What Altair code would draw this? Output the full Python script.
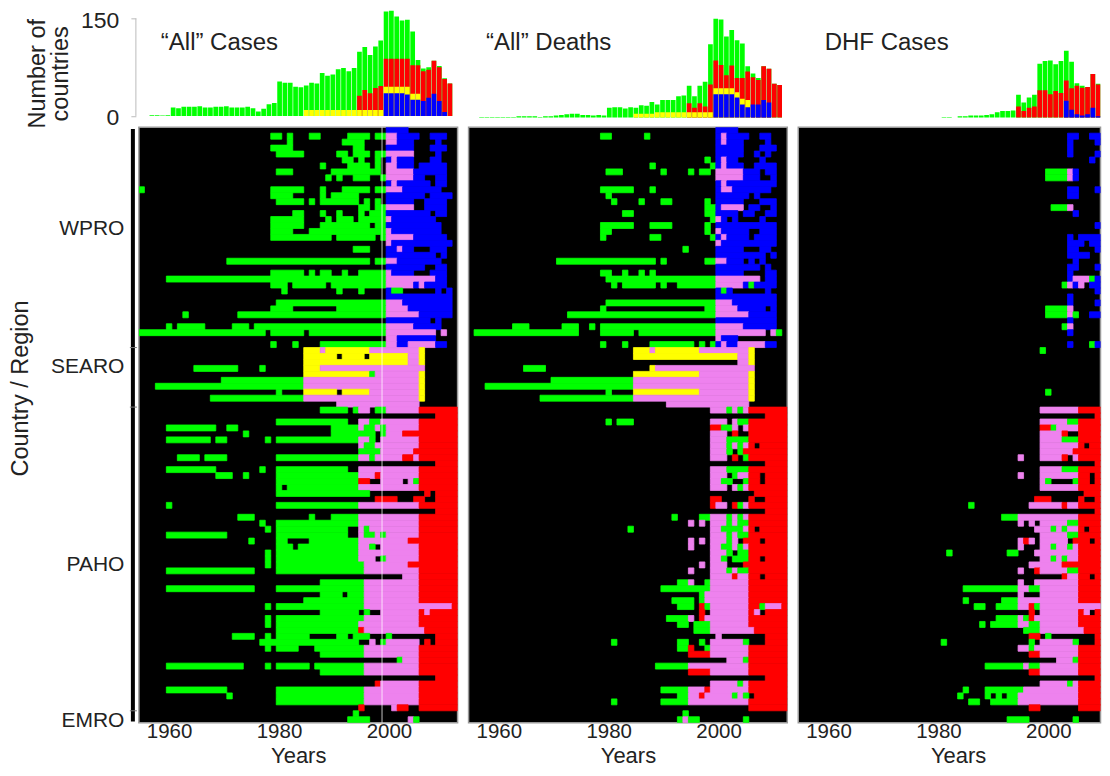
import altair as alt
import pandas as pd

FONT = "Liberation Sans"
INK = "#222222"
CODES = ["g", "b", "p", "r", "y"]
COLORS = ["#00ff00", "#0000ff", "#ee82ee", "#ff0000", "#ffff00"]
YEARS = list(range(1955, 2013))

CASES_ROWS = [
"b00-03","g79-80 g82 g86-87 g93-96 g98-99 p00-01 b02-05 b08-10","g82 g92-95 p00-01 b02-04 b09","g79-82 g94-95 b00-04 b08-10",
"g80-84 g91-92 g94-96 g98-99 p00-04 b09","g92-93 g95 g98 b00 p01 b02-04 b08-09","g88 g93-96 g98 p00-01 b02-04 b06-10","g80-82 g90-98 p00-04 b05-10",
"g89 g91 g94-96 g99 p00-04 b05-06 b09-10","b00 p01 b02-07 b09-10","g55 g79-84 g88 g92-96 g98-99 p00-02 b03-09","g79-82 g88 g90-94 b00-06 b08-11",
"g80-84 g86 g88-94 g96 g98 b00-04 b07-10","g95-96 g98-99 p00-04 b07-10","g83-84 g88 g91 g95 g97-99 b00-07 b09-10","g79-84 g89 g91-93 g95-99 p00 b01-08",
"g79-84 g88-96 g98-99 b00-09","g79-82 g86-99 p00 b01-09","g79-89 g91-97 g99 p00-04 b05-10","p00 b01-11",
"g94-96 b00-01 p02 b03-04 b08-10","b00-08 b10","g71-96 g98-99 p00-01 b02-09","b00-06 b09-10",
"g79-84 g86 g88-89 g92 g95-99 p00 b01-04 b08-10","g60-99 p00-08 b09-10","g79-81 g83-88 g90-99 p00-04 b05 p06 b07-10","g81 g91 g95 b00 g01-02 b09 b11",
"b00-11","g80-99 p00-02 b03-11","g79-82 g91-99 p00-03 b04-11","g63 g73-99 p00-05 b06-11",
"b00-07 b09","g60 g62-66 g72-74 g76-99 p00-04 b05-09","g55-77 g79-84 g86-99 p00-08 p10","p00-01 b02-08",
"g79 g83 g88-99 p00-01 b02-03 p04-08 b09-10","y85-87 p88 y89-96 p97-05 y06","y85-90 y92-95 y97-03 p04-05 y06","y85-03 p04-05 y06",
"g65-72 g77 y85-87 p88-06","y85-96 g97 p98-05 y06","g70-84 p85-05 y06","g58-84 p85-05 y06",
"g80 y85-90 y92-96 p97-05 y06","g68-84 p85-05 y06","p91-05","g88-92 g94 p95-96 g98-99 p00-05 r06-12",
"r09-12","g80-92 p95-96 g97-98 p99-05 r06-12","g60-68 g71-72 g90-94 p95 g96-97 p98 g99 p00-05 r06-12","g74 g90-97 g99 p00-02 r03-12",
"g60-67 g69-70 g78 g80-94 p95-96 g97 p99-05 r06-12","p95 g96-97 p98-05 r06-12","g95-98 p99-04 r05-12","g62-65 g67-70 g80-94 p95-96 g97 p98-02 r03-04 p05 r06-12",
"r09-12","g60-68 g77 g80-92 p95-05 r06-12","g69-71 g74 g80-94 p95-97 r98 p99-05 r06-12","g80-94 r95-96 p99-02 p04 g05 r06-12",
"g80 g82-94 p95-05 r06-12","g80-96 r07 r09-12","r98-01 r05-06 r09-12","g60 g80-94 p95-05 r06-12",
"r09-12","g73-75 g86 g90-94 p95-05 r06-12","g77 g80-94 p95-05 r06-12","g78 g80-92 p95 g96 p97-05 r06-12",
"g60-70 g80-92 p95 g96-97 p98 g99 p00-05 r06-12","g75 g80-81 g86-94 p95-03 r04-12","g80-82 g84-94 p95-96 g97 p99-05 r06-12","g78 g80-94 p95-05 r06-12",
"g78 g80-94 p95-97 g99 p00-05 r06-12","g78 g80-95 p96-03 r04-12","g60-75 g80-95 p96-05 r06-12","p03-05 r06-12",
"g88-95 p96-05 r06-12","g60-75 g80-95 p96-05 r06-12","g88-91 g93-95 p96-05 r06-12","g85-95 p96-05 r06-12",
"g78 g80-95 p96-11 r12","g88-94 g96 p99-05 r06 p07 r08-12","g78 g80-95 p96-05 r06-12","g78 g80-94 p95-05 r06-12",
"g80-94 r95 p96-06 r07-12","g72-75 g78 g80-85 g91-92 g94-96 g00 r09-12","g77-94 p97 g99 p00-05 r07 r09-12","g78 g80-83 g87-95 p96-05 r06-12",
"g88-95 p96-05 r06-12","g02 p03-05 r06-12","g60-73 g78 g80-85 g87-95 p96-05 r06-12","g88-95 p96-05 r06-12",
"r09-12","r98 p99-05 r06-12","g60-70 g80-95 p96-05 r06-12","g71 g80-95 p96-05 r06-12",
"g80-95 p96-05 r06-12","r95 p01 r02-03 r06-12","g94","g93-96 p04 g05",
]

DEATHS_ROWS = [
"b00-03","g79-80 g87 b00 p01 b02-05 b08-09","b00 p01 b02-04 b09","b00-04 b08-10",
"b00-04 b07 b09","g98 b00 p01 b02-03 b08","g88 g99 b00 p01 b02-04 b07-10","g80-82 g90 g95 g97-98 p00-04 b05-07 b09-10",
"p00-04 b05-07 b10","b00 p01 b02-10","g79-84 g88 b00 p01-02 b03-09","g80 b00-05 b07",
"g81 g86 g90-91 g98 b00-04 b08-10","g98-99 b00 p01-04 b06-07 b10","g83-84 g98-99 b00-03 b05-06 b09-10","g99 p00 b01 b03 b08",
"g79-84 g88-91 g98 b00-10","g79-80 g98 p00 b01-05 b08-10","g79 g88-89 g99 b00 p01 b02-05 b07-10","p00 b01-10",
"g94 b00-04 b08-09","b00-08 b10","g71-88 g90 g98-99 p00-01 b02-04 b06 b08","b00-07 b09",
"g79-80 g83 g86 g88 b00-04 b09-10","g80-99 p00-07 b09-10","g81 g83-88 g90 g93-99 p00-04 b05 g06 b07-10","b00 g01 b02 b09",
"b00-10","g80-99 p00-02 b03-10","g79 g98-99 p00-03 b04-08 b10","g73-99 p00-05 b06-10",
"b00-10","g63-65 g72-74 g77 g79-99 p00-04 b05-10","g56-74 g79-84 g86-99 p00-08 p10 g11","p00 b01-03",
"g79 g83 g88-95 g97 g99 b00 p01 b02-03 p04-08 b09-10","y85-87 p88 y89-96 p97-05 y06","y85-03 p04-05 y06","p04-05 y06",
"g65-68 y88 p89-06","y85-96 p97-05 y06","g70-84 p85-05 y06","g58-84 p85-05 y06",
"g80 y85-96 p97-05 y06","g68-84 p85-05 y06","p91-05","p99-01 g02 p03 g04 p05 r06-12",
"r09-12","g80 g82-84 p99-01 p03 g04-05 r06-12","r99-00 g01-02 p03 p05 r06-12","p99-01 r03 r06-12",
"p99-01 g02-05 r06-12","p99-01 g02 p03 g04 p05 r06 r08-12","p99-01 g02 g04 r05-12","p99-01 r03 g05 r06-12",
"r09-12","p99-01 g02-05 r06-12","p99-01 g03 p04-05 r06-07 r09-12","p99-00 g01-02 g05 r06-07 r09-12",
"p99-01 p03 g04 p05 r06-12","r07-12","r99-00 r06 r09-12","r99 p00-01 r03 g04 p05 r06-12",
"r09-12","g92 g97-98 p99-01 g02 p03 g04 p05 r06-12","p95 p97 p99-01 g02 p03 g04-05 r06-12","g84 p99-00 g01-04 p05 r06 r08-12",
"p99-01 g02 p03 g04-05 r06-12","p95 p97 p99-01 g02 p03 r05-07 r09-12","p95 p99-00 g01-02 p03 g04 p05 r06-12","p99-01 g02 g04-05 r06-12",
"p99-00 g01 g03-05 r06-07 r09-12","p97 p99-01 r05-12","p95 p99-01 g02 p03 g04-05 r06-12","p99-02 r03 p04-05 r06-07 r09-12",
"g93-94 p95 g98 p99-05 r06-12","g90-98 p99-05 r06-12","g97 p98-05 r06-12","g92-95 g97 p98-05 r06-12",
"g93-95 r97 g98 p99-05 r06-07 g08 p09-11 r12","r97 p99-05 r06 p07 r09-12","g91-94 p95 r97 p98-05 r06-12","g93-94 g96-98 p99-05 r06-12",
"g96-98 p99-06 r07-12","p00 r09-12","g81 g93-94 g97 p99-04 g05 r09-12","g93-94 r95 g98 p99-05 r06-12",
"r95-98 p99-05 r06-12","p02-04 g05 r06-12","g89-94 p95-05 r06-12","r95-98 p99-05 r06-12",
"r09-12","p99-03 g04 p05 r06-12","g90-94 p95-97 r98 p99-05 r06-12","g93-94 p95-96 r97 p98-02 g03 p04 g05 r07-12",
"g81 g90-94 p95-05 r06-12","r06-12","g94","g93 p94 g95-96 g05",
]

DHF_ROWS = [
"","b04-05 b08-09","b04 b09","b04","b04 b09","b08","","g00-03 p04 b05",
"g00-03 p04 b05","","b04-05 b09","b04-05","","g01-03 p04","b05","",
"b09","","b04 b06-09","b04-06 b08-09","b04-05 b09","b04-07","b05","b04-05 b09",
"b04","b04 p05-07 g08 b09","g03 p04 b05 p06 b08-09","b09","b04","b04 b09","g00-03 p04","g00-03 p04 g05 b08-09",
"b04","g03 p04","b04","","b04 g08 b09","g99","","",
"","","","","g00","","","p99-05 r06-12",
"r09-12","p99-03 g04-05 r06-12","r99-00 g01 p02-05 r06-12","p99-02 r03 r06-12",
"p99-02 g03-05 r06-12","p99-05 r06 r08-12","p99-04 r05-12","p95 p99-02 r03 p05 r06-12",
"r09-12","p99-02 g03-05 r06-12","p95 p99-05 r06-07 r09-12","p99 g00 g05 r06-07 r09-12",
"p99-05 r06-12","r07-12","r98-00 r06 r09-12","g86 p97-02 r03 p04-05 r06-12",
"r09-12","g92-94 p95-05 r06-12","p95 p97 p99-03 g04-05 r06-12","p98-00 g01 p02 g03 p04-05 r06 r08-12",
"p99-03 g04-05 r06-12","p95 r96 p97 p99-03 r05-07 r09-12","p95 p99-00 g01 p02-03 g04 p05 r06-12","g82 g93-94 p98-05 r06-12",
"p99-00 g01 p02 g03 p04-05 r06-12","p97-02 r03-12","p95 r98 p99-03 g04-05 r06-12","r03 p04-05 r06-07 r09-12",
"p95 p98-05 r06-12","g85-94 p95-96 g97-98 p99-05 r06-12","p95 p99-05 r06-12","g85 g92-94 p95-05 r06-12",
"g87-88 g91-94 p95-96 r97 g98 p99-12","r97 p99-05 r06 p07 r09-12","g91-94 p95 g96 r97 p98-05 r06-12","g88 g90-94 p95-96 g97-98 p99-05 r06-12",
"g96-98 p99-06 r07-12","r97-98 g00 r09-12","g81 g97 p99-04 g05 r09-12","p95-96 g97 p98-05 r06-12",
"r97-98 p99-05 r06-12","p02-04 g05 r06-12","g89-95 p96 g97-98 p99-05 r06-12","r97-98 p99-05 r06-12",
"r09-12","p99-03 g04 p05 r06-12","g85 g89-95 p96-05 r06-12","g84 g89 g91 g93-94 p95-05 r06-12",
"g86-87 g90-94 p95-05 r06-12","r97-98 r06-12","","g93-96 g05",
]

CASES_TOTAL = [0,1,1,0.5,1,13,12,14,14,14,15,13,13,14,14,15,13,13,13,14,12,7,11,18,20,53,51,51,45,44,47,51,50,66,62,64,72,74,69,74,99,106,94,107,116,161,162,153,147,148,130,86,73,75,85,77,58,50]
CASES_RED = [0]*40 + [31,40,35,43,46,88,88,88,88,88,78,78,69,71,85,75,57,50]
CASES_YELLOW = [0]*30 + [9]*15 + [45,45,45,45,45,34,34] + [0]*6
CASES_BLUE = [0]*45 + [35,35,35,35,33,25,25,23,28,34,23,6,0]

DEATHS_TOTAL = [0,1,1,1,1,1,1,1,2,2,2,2,1,2,2,3,4,5,6,6,4,4,3,4,3,15,16,16,14,16,15,19,18,24,20,27,27,27,33,34,49,33,49,55,113,152,151,125,135,119,114,79,68,61,79,75,52,50]
DEATHS_RED = [0]*40 + [22,15,22,17,51,88,81,65,80,61,61,71,62,58,79,75,52,50]
DEATHS_YELLOW = [0]*30 + [6,6,6,6] + [8]*11 + [45,45,45,45,39,29,27] + [0]*6
DEATHS_BLUE = [0]*45 + [36,36,36,36,31,20,16,20,20,27,23,0,0]

DHF_TOTAL = [0]*26 + [1,1,0,2,2,3,3,3,4,5,8,10,10,11] + [35,23,31,35,83,87,88,82,87,103,86,53,49,47,67,52,51,50]
DHF_RED = [0]*40 + [17,10,15,17,42,42,36,41,38,57,45,49,46,47,67,51,51,50]
DHF_YELLOW = [0]*58
DHF_BLUE = [0]*49 + [26,12,5,3,5,15,2,0,0]

REGION_NAMES = ["WPRO", "SEARO", "PAHO", "EMRO"]
REGION_LABEL_ROWS = [17.0, 40.2, 73.4, 99.7]
REGION_BOUNDS = [37, 47, 98]


def year(text):
    n = int(text)
    return 2000 + n if n < 50 else 1900 + n


def runs(rows):
    out = []
    for r, line in enumerate(rows):
        for tok in line.split():
            a, _, b = tok[1:].partition("-")
            s = year(a)
            e = year(b) if b else s
            out.append({"row": r, "row2": r + 1, "x0": s - 0.5, "x1": e + 0.5, "cat": tok[0]})
    return pd.DataFrame(out)


scale_c = alt.Scale(domain=CODES, range=COLORS)


def heat(rows, width, xmax, left=False, white=False, title_x=None):
    xs = alt.Scale(domain=[1954.5, xmax], nice=False, zero=False)
    ys = alt.Scale(domain=[100, 0], nice=False, zero=False)
    extra = {} if title_x is None else {"titleX": title_x}
    xaxis = alt.Axis(values=[1960, 1980, 2000], format="d", ticks=False, domain=False, grid=False,
                     labelFont=FONT, labelFontSize=20.5, labelColor=INK, labelPadding=-1,
                     title="Years", titleFont=FONT, titleFontSize=22, titleFontWeight="normal",
                     titleColor=INK, titlePadding=3, labelFlush=False, **extra)
    if left:
        yaxis = alt.Axis(values=REGION_LABEL_ROWS,
                         labelExpr="datum.value<30?'WPRO':datum.value<50?'SEARO':datum.value<90?'PAHO':'EMRO'",
                         ticks=False, domain=False, grid=False, labelFont=FONT, labelFontSize=21,
                         labelColor=INK, labelPadding=15, labelOverlap=False, title="Country / Region", titleFont=FONT,
                         titleFontSize=23.5, titleFontWeight="normal", titleColor=INK, titlePadding=17.5, titleY=261)
    else:
        yaxis = None
    base = alt.Chart(runs(rows)).mark_rect(clip=True, strokeWidth=0.8).encode(
        x=alt.X("x0:Q", scale=xs, axis=xaxis),
        x2="x1:Q",
        y=alt.Y("row:Q", scale=ys, axis=yaxis),
        y2="row2:Q",
        color=alt.Color("cat:N", scale=scale_c, legend=None),
        stroke=alt.Stroke("cat:N", scale=scale_c, legend=None),
    )
    layers = [base]
    if white:
        layers.append(alt.Chart(pd.DataFrame({"x": [1998.75]})).mark_rule(color="white", opacity=0.5, strokeWidth=1.5)
                      .encode(x="x:Q"))
    if left:
        bar = pd.DataFrame({"a": [0.3], "b": [99.8]})
        layers.append(alt.Chart(bar).mark_rule(color="black", strokeWidth=4)
                      .encode(x=alt.value(-6), y=alt.Y("a:Q"), y2="b:Q"))
        ticks = pd.DataFrame({"r": REGION_BOUNDS})
        layers.append(alt.Chart(ticks).mark_rule(color="#777777", strokeWidth=1)
                      .encode(x=alt.value(-9), x2=alt.value(-2), y="r:Q"))
    return alt.layer(*layers).properties(
        width=width, height=596,
        view=alt.ViewBackground(fill="black", stroke="#9a9a9a", strokeWidth=1.5),
    )


def bars(total, red, yellow, blue, label, label_x, width, xmax, left=False, domain=(-10.3, 168.2)):
    df = pd.DataFrame({"year": YEARS, "g": total, "r": red, "y": yellow, "b": blue})
    xs = alt.Scale(domain=[1954.5, xmax], nice=False, zero=False)
    ys = alt.Scale(domain=list(domain), nice=False, zero=False)
    if left:
        yaxis = alt.Axis(values=[0, 50, 100, 150], grid=False, domain=False, ticks=True, tickSize=5,
                         tickColor="#bbbbbb", offset=3, labelFont=FONT, labelFontSize=23, labelColor=INK,
                         labelPadding=12, labelOverlap=False, labelOffset=2, title=["Number of", "countries"], titleFont=FONT,
                         titleFontSize=23.5, titleFontWeight="normal", titleColor=INK, titlePadding=8,
                         titleLineHeight=23, titleY=65)
    else:
        yaxis = None
    layers = []
    for key, col in zip(["g", "r", "y", "b"], ["#00ff00", "#ff0000", "#ffff00", "#0000ff"]):
        d = df[df[key] > 0]
        layers.append(alt.Chart(d).mark_bar(size=4.7, color=col, clip=True).encode(
            x=alt.X("year:Q", scale=xs, axis=None),
            y=alt.Y(f"{key}:Q", scale=ys, axis=yaxis, stack=None),
        ))
    if left:
        layers.append(alt.Chart(pd.DataFrame({"a": [0], "b": [150]})).mark_rule(color="#bbbbbb", strokeWidth=1)
                      .encode(x=alt.value(-3), y="a:Q", y2="b:Q"))
    layers.append(alt.Chart(pd.DataFrame({"t": [label]})).mark_text(
        align="left", baseline="alphabetic", font=FONT, fontSize=24, color=INK
    ).encode(x=alt.value(label_x), y=alt.value(42), text="t:N"))
    return alt.layer(*layers).properties(width=width, height=116)


FULL = 2012.5
LAST_W = 302.5
CUT = 1954.5 + LAST_W / 5.5

chart = alt.concat(
    bars(CASES_TOTAL, CASES_RED, CASES_YELLOW, CASES_BLUE, "\u201cAll\u201d Cases", 22, 319, FULL, left=True, domain=(-12.8, 165.7)),
    bars(DEATHS_TOTAL, DEATHS_RED, DEATHS_YELLOW, DEATHS_BLUE, "\u201cAll\u201d Deaths", 17.5, 319, FULL),
    bars(DHF_TOTAL, DHF_RED, DHF_YELLOW, DHF_BLUE, "DHF Cases", 26.5, LAST_W, CUT),
    heat(CASES_ROWS, 319, FULL, left=True, white=True),
    heat(DEATHS_ROWS, 319, FULL),
    heat(DHF_ROWS, LAST_W, CUT, title_x=160),
    columns=3, bounds="flush", spacing=alt.RowColnumber(row=3, column=11),
).properties(
    padding=0, background="white"
).configure_view(stroke=None)

chart.save("out.html", embed_options={"renderer": "svg", "actions": False})
